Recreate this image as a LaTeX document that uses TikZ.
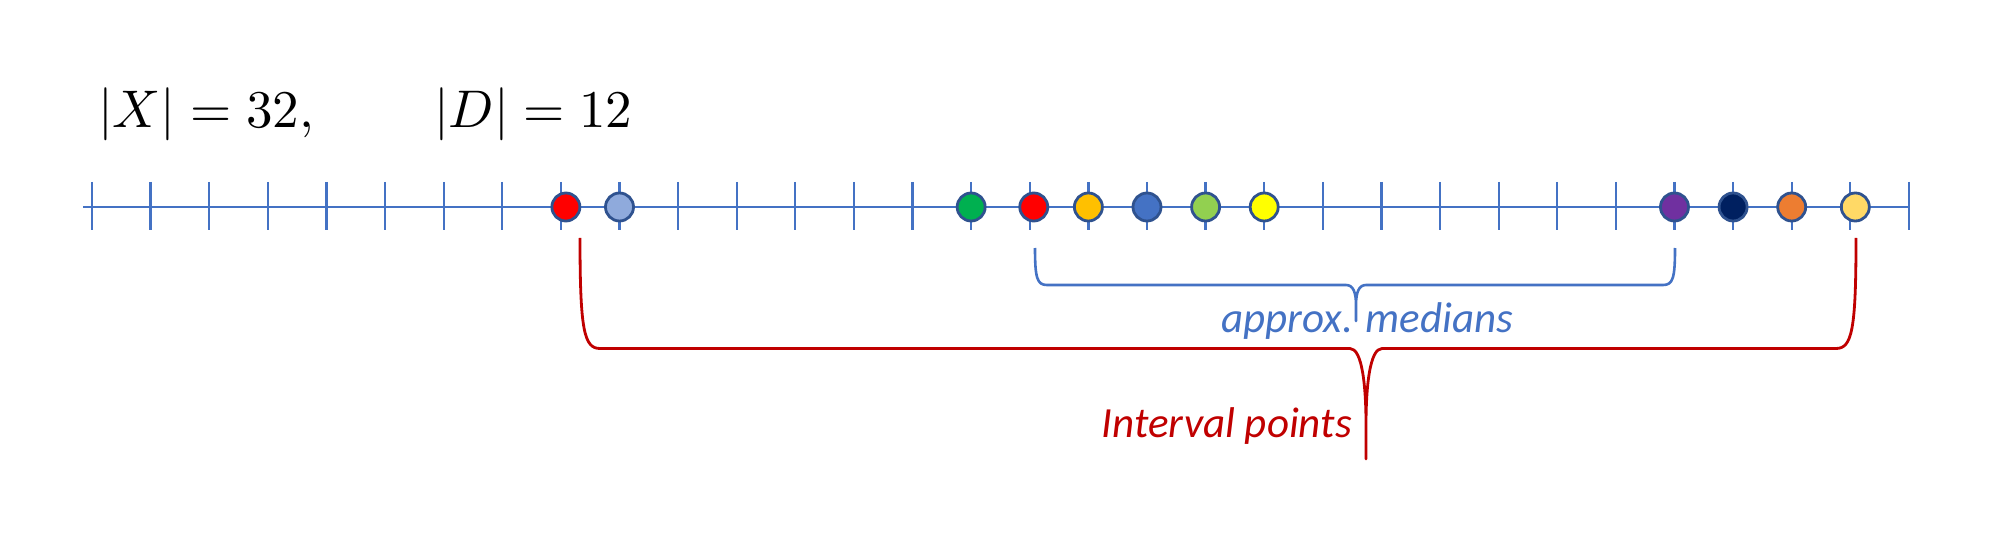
\documentclass[tikz,border=0pt]{standalone}
\usepackage{fontspec}
\newfontfamily\calib{Carlito}
\definecolor{lineblue}{HTML}{4472C4}
\definecolor{edgeblue}{HTML}{2F528F}
\definecolor{darkred}{HTML}{C00000}
\definecolor{fa}{HTML}{FF0000}
\definecolor{fb}{HTML}{8FAADC}
\definecolor{fc}{HTML}{00B050}
\definecolor{fd}{HTML}{FF0000}
\definecolor{fe}{HTML}{FFC000}
\definecolor{ff}{HTML}{4472C4}
\definecolor{fg}{HTML}{92D050}
\definecolor{fh}{HTML}{FFFF00}
\definecolor{fi}{HTML}{7030A0}
\definecolor{fj}{HTML}{002060}
\definecolor{fk}{HTML}{ED7D31}
\definecolor{fl}{HTML}{FFD966}
\begin{document}
\begin{tikzpicture}[x=1pt,y=-1pt,
  axisline/.style={lineblue, line width=2.7pt},
  tickmark/.style={lineblue, line width=2.3pt},
  dot/.style={circle, draw=edgeblue, line width=2.8pt, minimum size=28pt, inner sep=0pt},
  bluebrace/.style={lineblue, line width=2.6pt, line join=round},
  redbrace/.style={darkred, line width=2.8pt, line join=round},
  mathlbl/.style={anchor=base west, inner sep=0pt, scale=5.3},
  lbl/.style={inner sep=0pt, font=\calib\itshape\fontsize{43}{50}\selectfont}]
\useasboundingbox (0,0) rectangle (1999,545);
\node[mathlbl] (sx) at (97,128) {$|X| = 32,$};
\node[mathlbl] (sd) at (433,128) {$|D| = 12$};
\coordinate (L) at (83,207);
\coordinate (R) at (1909,207);
\draw[axisline] (L) -- (R);
\foreach \k in {0,...,31} {
  \draw[tickmark] ({92+\k*58.61},182) -- ({92+\k*58.61},230);
}
\foreach \k/\c/\dx/\n in {8/fa/5/c1, 9/fb/0/c2, 15/fc/0/c3, 16/fd/4/c4, 17/fe/0/c5, 18/ff/0/c6, 19/fg/0/c7, 20/fh/0/c8, 27/fi/0/c9, 28/fj/0/c10, 29/fk/0/c11, 30/fl/5/c12} {
  \node[dot, fill=\c] (\n) at ({92+\k*58.61+\dx},207) {};
}
% blue brace
\coordinate (bl) at (1035,248);
\coordinate (br) at (1675,248);
\coordinate (bt) at (1356,321);
\draw[bluebrace] (bl) .. controls (1035,278) and (1037,285) .. (1047,285)
  -- (1346,285) .. controls (1353,285) and (1356,292) .. (1356,305) -- (bt) -- (1356,305)
  .. controls (1356,292) and (1359,285) .. (1366,285)
  -- (1663,285) .. controls (1673,285) and (1675,278) .. (br);
% red brace
\coordinate (rl) at (580,238);
\coordinate (rr) at (1856,238);
\coordinate (rt) at (1366,459);
\draw[redbrace] (rl) .. controls (580,330) and (584,348.5) .. (600,348.5)
  -- (1350,348.5) .. controls (1362,348.5) and (1366,385) .. (1366,425) -- (rt) -- (1366,425)
  .. controls (1366,385) and (1370,348.5) .. (1382,348.5)
  -- (1836,348.5) .. controls (1852,348.5) and (1856,330) .. (rr);
\node[lbl, text=lineblue, anchor=base west] (am) at (1221,332) {approx. medians};
\node[lbl, text=darkred, anchor=base east] (ip) at (1352,437) {Interval points};
\end{tikzpicture}
\end{document}
